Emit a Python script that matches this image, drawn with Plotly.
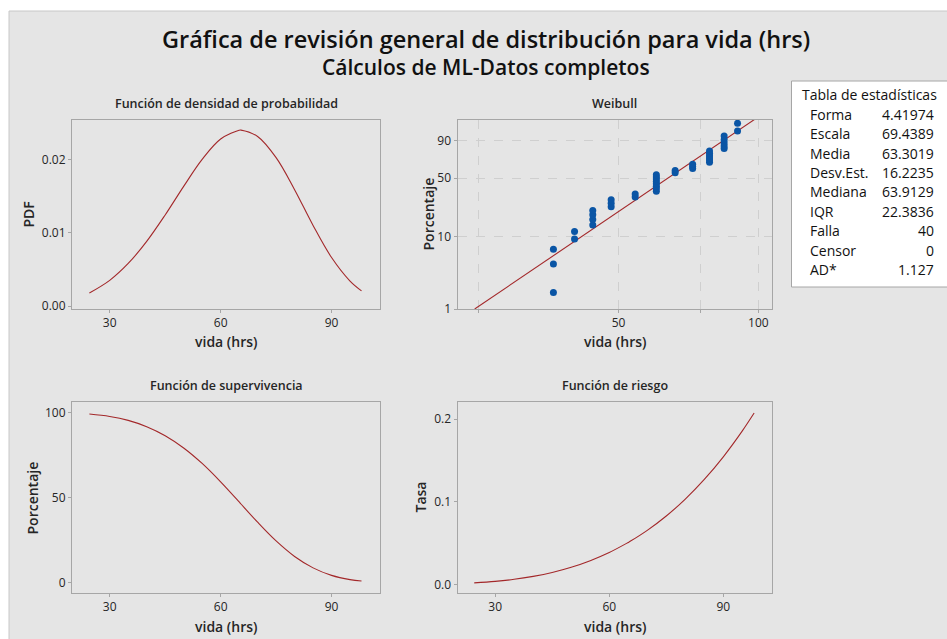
import math
import plotly.graph_objects as go

W, H = 947, 639

# ---------------- data ----------------
# curve grid (hrs) and curve values
curve_x = [24.5, 30, 35, 40, 45, 50, 55, 60, 65, 65.5, 70, 75, 80, 85, 90, 95, 98.1]
pdf_vals = [0.00179, 0.00352, 0.00583, 0.00885, 0.01247, 0.01638, 0.02007, 0.02286,
            0.02406, 0.02408, 0.02321, 0.02031, 0.01593, 0.01103, 0.00664, 0.00342, 0.00208]
surv_vals = [99.0, 97.6, 95.3, 91.6, 86.3, 79.1, 70.0, 59.2, 47.4, 46.2, 35.5, 24.5,
             15.4, 8.7, 4.3, 1.8, 1.0]
haz_vals = [0.0018, 0.0036, 0.0061, 0.0097, 0.0144, 0.0207, 0.0287, 0.0386, 0.0508,
            0.0521, 0.0654, 0.0828, 0.1033, 0.1271, 0.1545, 0.1859, 0.2075]

# Weibull probability plot: failure times and plotted percentages
fail_times = [36.2] * 3 + [40.2] * 2 + [44.0] * 4 + [48.2] * 3 + [54.3] * 2 + [60.3] * 8 + \
             [66.2] * 2 + [72.2] * 3 + [78.5] * 6 + [84.4] * 5 + [90.2] * 2
fail_pct = [1.7, 4.2, 6.7, 9.2, 11.6, 14.1, 16.6, 19.1, 21.5, 24.0, 26.5, 29.0, 31.4, 33.9,
            36.4, 38.9, 41.3, 43.8, 46.3, 48.8, 51.2, 53.7, 56.2, 58.7, 61.1, 63.6, 66.1,
            68.6, 71.0, 73.5, 76.0, 78.5, 80.9, 83.4, 85.9, 88.4, 90.8, 93.3, 95.8, 98.3]
fit_x = [24.5, 98.1]
fit_pct = [1.0, 99.0]

weib_pct_ticks = [1, 10, 50, 90]
weib_x_ticks = [25, 50, 75, 100]
weib_x_ticktext = ["", "50", "", "100"]

stat_labels = ["Forma", "Escala", "Media", "Desv.Est.", "Mediana", "IQR", "Falla", "Censor", "AD*"]
stat_values = ["4.41974", "69.4389", "63.3019", "16.2235", "63.9129", "22.3836", "40", "0", "1.127"]

title_main = "Gráfica de revisión general de distribución para vida (hrs)"
title_sub = "Cálculos de ML-Datos completos"
panel_titles = ["Función de densidad de probabilidad", "Weibull",
                "Función de supervivencia", "Función de riesgo"]


def wscale(p):
    q = p / 100.0
    return math.log(-math.log(1 - q))


def X(px):
    return px / W


def Y(py):
    return 1 - py / H


FONT = "Open Sans"
LINE_COL = "#a3282a"
BLUE = "#0a55a5"
AX_COL = "#a6a6a6"
TXT = "#262626"
GRID = "#cfcfcf"

fig = go.Figure()

fig.add_trace(go.Scatter(x=curve_x, y=pdf_vals, mode="lines", line=dict(color=LINE_COL, width=1.1, shape="spline"),
                         xaxis="x", yaxis="y", showlegend=False))
fig.add_trace(go.Scatter(x=fit_x, y=[wscale(p) for p in fit_pct], mode="lines",
                         line=dict(color=LINE_COL, width=1.1), xaxis="x2", yaxis="y2", showlegend=False))
fig.add_trace(go.Scatter(x=fail_times, y=[wscale(p) for p in fail_pct], mode="markers",
                         marker=dict(color=BLUE, size=7), xaxis="x2", yaxis="y2", showlegend=False))
fig.add_trace(go.Scatter(x=curve_x, y=surv_vals, mode="lines", line=dict(color=LINE_COL, width=1.1, shape="spline"),
                         xaxis="x3", yaxis="y3", showlegend=False))
fig.add_trace(go.Scatter(x=curve_x, y=haz_vals, mode="lines", line=dict(color=LINE_COL, width=1.1, shape="spline"),
                         xaxis="x4", yaxis="y4", showlegend=False))

LEFT = [X(72), X(380)]
RIGHT = [X(457.5), X(772)]
TOP = [Y(309), Y(120)]
BOT = [Y(592.7), Y(402.3)]

tickfont = dict(family=FONT, size=12, color=TXT)


def ax(domain, anchor, **kw):
    d = dict(domain=domain, anchor=anchor, showline=True, mirror=True, linecolor=AX_COL, linewidth=1,
             ticks="outside", ticklen=3, tickcolor=AX_COL, tickfont=tickfont, showgrid=False,
             zeroline=False, fixedrange=True, automargin=False)
    d.update(kw)
    return d


fig.update_layout(
    width=W, height=H, margin=dict(l=0, r=0, t=0, b=0, pad=0), autosize=False,
    paper_bgcolor="white", plot_bgcolor="white",
    xaxis=ax(LEFT, "y", range=[19.8, 103.1], tickvals=[30, 60, 90]),
    yaxis=ax(TOP, "x", range=[-0.0004, 0.02546], tickvals=[0, 0.01, 0.02], ticktext=["0.00", "0.01", "0.02"]),
    xaxis2=ax(RIGHT, "y2", type="log", range=[math.log10(22.5), math.log10(107)], tickvals=weib_x_ticks,
              ticktext=weib_x_ticktext, showgrid=True, gridcolor=GRID, griddash="dash", gridwidth=1),
    yaxis2=ax(TOP, "x2", range=[wscale(1.0), 1.51], tickvals=[wscale(p) for p in weib_pct_ticks],
              ticktext=[str(p) for p in weib_pct_ticks], showgrid=True, gridcolor=GRID, griddash="dash"),
    xaxis3=ax(LEFT, "y3", range=[19.8, 103.1], tickvals=[30, 60, 90]),
    yaxis3=ax(BOT, "x3", range=[-5.87, 105.9], tickvals=[0, 50, 100]),
    xaxis4=ax(RIGHT, "y4", range=[20.1, 102.8], tickvals=[30, 60, 90]),
    yaxis4=ax(BOT, "x4", range=[-0.0101, 0.2205], tickvals=[0, 0.1, 0.2], ticktext=["0.0", "0.1", "0.2"]),
)

shapes = [
    dict(type="rect", xref="paper", yref="paper", x0=X(9), x1=X(960), y0=Y(650), y1=Y(11),
         fillcolor="#e5e5e5", line=dict(color="#c8c8c8", width=1), layer="below"),
    dict(type="rect", xref="paper", yref="paper", x0=X(791.5), x1=X(960), y0=Y(287), y1=Y(81),
         fillcolor="white", line=dict(color=AX_COL, width=1), layer="above"),
]

ann = []
ann.append(dict(text=title_main, x=X(485.5), y=Y(39), xref="paper", yref="paper",
                showarrow=False, font=dict(family=FONT, size=23.5, color="#111111", weight=600),
                xanchor="center", yanchor="middle"))
ann.append(dict(text=title_sub, x=X(485.5), y=Y(67), xref="paper", yref="paper",
                showarrow=False, font=dict(family=FONT, size=21, color="#111111", weight=600),
                xanchor="center", yanchor="middle"))

centers_x = [(72 + 380) / 2, (457.5 + 772) / 2, (72 + 380) / 2, (457.5 + 772) / 2]
title_y = [103, 103, 386, 386]
xt_y = [341.5, 341.5, 626, 626]
ytitle_x = [28, 428, 32, 420]
ytitle_y = [214.5, 214.5, 497.5, 497.5]
ytitles = ["PDF", "Porcentaje", "Porcentaje", "Tasa"]
for i in range(4):
    ann.append(dict(text=panel_titles[i], x=X(centers_x[i]), y=Y(title_y[i]), xref="paper", yref="paper",
                    showarrow=False, font=dict(family=FONT, size=12.5, color=TXT, weight=600),
                    xanchor="center", yanchor="middle"))
    ann.append(dict(text="vida (hrs)", x=X(centers_x[i]), y=Y(xt_y[i]), xref="paper", yref="paper",
                    showarrow=False, font=dict(family=FONT, size=14, color=TXT, weight=600),
                    xanchor="center", yanchor="middle"))
    ann.append(dict(text=ytitles[i], x=X(ytitle_x[i]), y=Y(ytitle_y[i]), xref="paper", yref="paper",
                    showarrow=False, textangle=-90, font=dict(family=FONT, size=14, color=TXT, weight=600),
                    xanchor="center", yanchor="middle"))

ann.append(dict(text="Tabla de estadísticas", x=X(800), y=Y(94.3), xref="paper", yref="paper",
                showarrow=False, font=dict(family=FONT, size=14, color="#111111"), xanchor="left", yanchor="middle"))
for i, (lab, val) in enumerate(zip(stat_labels, stat_values)):
    yy = 114.3 + i * 19.4
    ann.append(dict(text=lab, x=X(807.5), y=Y(yy), xref="paper", yref="paper", showarrow=False,
                    font=dict(family=FONT, size=14, color="#111111"), xanchor="left", yanchor="middle"))
    ann.append(dict(text=val, x=X(936), y=Y(yy), xref="paper", yref="paper", showarrow=False,
                    font=dict(family=FONT, size=14, color="#111111"), xanchor="right", yanchor="middle"))

fig.update_layout(shapes=shapes, annotations=ann)
fig.write_html("out.html", config={"displayModeBar": False},
               post_script="document.body.style.margin='0';document.body.style.overflow='hidden';")
